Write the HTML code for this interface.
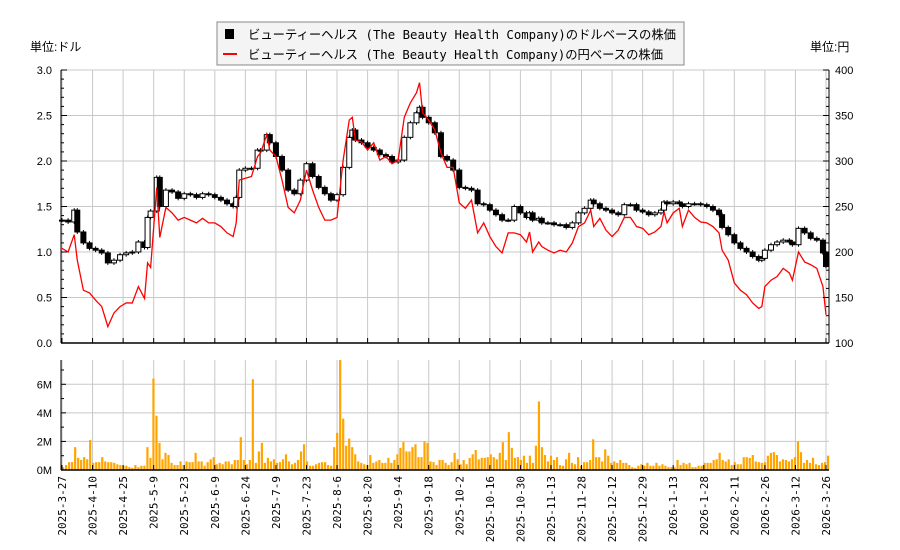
<!DOCTYPE html>
<html><head><meta charset="utf-8">
<style>
body{margin:0;background:#fff;}
svg{display:block;font-family:"Liberation Sans","Noto Sans CJK JP",sans-serif;}
</style></head>
<body>
<svg id="chart" width="900" height="550" viewBox="0 0 900 550">
<g id="grid"></g>
<g id="vol"></g>
<g id="candles"></g>
<polyline id="yenline" fill="none" stroke="#ff0000" stroke-width="1.3"/>
<g id="axes"></g>
<text x="30" y="51" font-size="12">単位:ドル</text>
<text x="810" y="51" font-size="12">単位:円</text>
<g>
<rect x="217" y="22" width="467" height="43" fill="#f4f4f4" stroke="#888"/>
<rect x="225" y="29" width="9" height="10" fill="#000"/>
<text x="248" y="39" font-size="12.5" textLength="428" lengthAdjust="spacingAndGlyphs" font-family="'DejaVu Sans Mono','Noto Sans CJK JP',monospace">ビューティーヘルス (The Beauty Health Company)のドルベースの株価</text>
<line x1="223" y1="54" x2="237" y2="54" stroke="#ff0000" stroke-width="2"/>
<text x="248" y="59" font-size="12.5" textLength="415" lengthAdjust="spacingAndGlyphs" font-family="'DejaVu Sans Mono','Noto Sans CJK JP',monospace">ビューティーヘルス (The Beauty Health Company)の円ベースの株価</text>
</g>
</svg>
<script>
const days=[0,2,4,5,7,9,11,13,15,17,19,21,23,25,27,28,29,31,32,34,36,38,40,42,44,46,48,50,52,54,56,57,58,60,62,64,65,67,68,70,72,74,76,78,80,82,84,86,88,90,92,94,95,96,98,100,102,104,106,108,110,112,114,116,117,118,120,122,124,126,128,130,132,134,136,138,140,142,144,146,148,150,152,153,154,156,157,159,161,163,165,167,169,171,173,174,176,178,180,182,184,186,188,190,192,194,196,197,198,200,202,203,205,207,209,211,213,215,216,218,220,222,224,226,228,229,230,232,234,236,238,239,241,243,245,247,249,250];
const usd=[1.35,1.33,1.46,1.22,1.10,1.04,1.02,0.99,0.88,0.91,0.97,0.99,1.00,1.11,1.05,1.38,1.45,1.82,1.50,1.68,1.66,1.59,1.64,1.63,1.60,1.64,1.63,1.60,1.57,1.53,1.50,1.60,1.90,1.92,1.92,2.12,2.12,2.29,2.20,2.05,1.90,1.68,1.64,1.79,1.97,1.83,1.71,1.64,1.57,1.63,1.93,2.26,2.34,2.23,2.20,2.15,2.12,2.07,2.05,1.99,2.01,2.26,2.42,2.53,2.59,2.48,2.42,2.31,2.05,2.01,1.90,1.71,1.70,1.68,1.53,1.52,1.46,1.41,1.35,1.35,1.50,1.43,1.38,1.43,1.35,1.37,1.32,1.32,1.30,1.30,1.27,1.32,1.43,1.48,1.57,1.53,1.48,1.46,1.43,1.41,1.52,1.52,1.46,1.44,1.41,1.43,1.46,1.55,1.53,1.55,1.53,1.50,1.53,1.53,1.52,1.50,1.46,1.41,1.27,1.19,1.10,1.04,1.00,0.95,0.91,0.93,1.02,1.08,1.11,1.13,1.11,1.08,1.26,1.21,1.15,1.13,0.99,0.84];
const yen=[204,200,219,191,158,155,147,140,118,133,140,144,144,162,149,188,183,271,216,249,243,235,238,235,232,237,232,232,228,221,217,232,279,281,283,305,309,329,312,305,279,249,243,257,290,268,249,235,235,238,301,345,348,323,321,312,320,301,305,297,301,348,364,375,386,353,345,334,309,293,293,254,248,257,221,232,217,206,199,221,221,219,211,222,200,211,206,202,199,202,200,210,228,232,246,228,237,224,217,224,238,238,228,226,219,222,228,244,232,243,248,228,246,238,233,232,228,221,202,191,166,158,153,144,138,140,162,169,173,182,177,169,200,189,186,182,162,131];
const vols=[0.2,0.35,0.55,0.55,1.6,0.85,0.7,0.9,0.75,2.1,0.5,0.55,0.55,0.9,0.6,0.55,0.55,0.5,0.4,0.35,0.3,0.3,0.2,0.15,0.35,0.2,0.3,0.3,1.6,0.85,6.4,3.8,1.9,0.75,1.2,1.05,0.5,0.35,0.35,0.6,0.35,0.6,0.55,0.55,1.2,0.6,0.6,0.3,0.55,0.75,0.9,0.4,0.5,0.4,0.6,0.6,0.4,0.7,0.7,2.3,0.7,0.4,0.7,6.35,0.5,1.3,1.9,0.5,0.85,0.6,0.75,0.5,0.55,0.75,1.1,0.6,0.4,0.5,0.7,1.3,1.8,0.6,0.3,0.3,0.4,0.5,0.55,0.55,0.35,0.3,1.6,2.6,7.7,3.6,1.7,2.2,1.6,1.1,0.6,0.5,0.4,0.35,1.05,0.5,0.6,0.7,0.5,0.5,0.85,0.5,0.7,1.1,1.55,1.95,1.3,1.3,1.6,1.8,0.9,0.9,2.0,1.9,0.6,0.55,0.35,0.7,
0.7,0.5,0.35,0.55,1.2,0.75,0.4,0.7,0.4,0.85,1.1,1.4,0.75,0.85,0.85,0.9,1.1,0.9,0.75,1.2,1.95,0.7,2.65,1.55,0.85,0.9,0.7,1.0,0.5,1.0,0.5,1.7,4.8,1.6,1.05,0.6,1.0,0.7,0.9,0.35,0.3,0.75,1.2,0.5,0.4,0.9,0.3,0.55,0.55,0.7,2.15,0.9,0.9,0.6,1.45,1.0,0.5,0.6,0.5,0.7,0.5,0.5,0.35,0.2,0.15,0.3,0.4,0.3,0.5,0.3,0.3,0.5,0.3,0.4,0.3,0.2,0.2,0.2,0.7,0.35,0.5,0.4,0.5,0.2,0.2,0.3,0.3,0.5,0.5,0.5,0.7,0.75,1.2,0.7,0.6,0.75,0.35,0.55,0.4,0.4,0.9,0.9,0.85,1.05,0.6,0.55,0.5,0.55,1.0,1.2,1.25,1.05,0.6,0.75,0.7,0.6,0.75,0.9,2.0,1.25,0.5,0.7,0.5,0.85,0.4,0.35,0.5,0.55,1.0];
const xLabels=["2025-3-27","2025-4-10","2025-4-25","2025-5-9","2025-5-23","2025-6-9","2025-6-24","2025-7-9","2025-7-23","2025-8-6","2025-8-20","2025-9-4","2025-9-18","2025-10-2","2025-10-16","2025-10-30","2025-11-13","2025-11-28","2025-12-12","2025-12-29","2026-1-13","2026-1-28","2026-2-11","2026-2-26","2026-3-12","2026-3-26"];
const usdTicks=[0,0.5,1.0,1.5,2.0,2.5,3.0];
const yenTicks=[100,150,200,250,300,350,400];
const volTicks=[0,2,4,6];

const NS="http://www.w3.org/2000/svg";
const L=61,R=829,T=70,B=343,VT=360,VB=470;
const X0=62,DX=30.56/10;
const xDay=d=>X0+d*DX;
const yUsd=v=>B-(v/3)*(B-T);
const yYen=v=>B-((v-100)/300)*(B-T);
const yVol=v=>VB-(v/7.7)*(VB-VT);
function mk(tag,attrs,parent){const e=document.createElementNS(NS,tag);for(const k in attrs)e.setAttribute(k,attrs[k]);parent.appendChild(e);return e;}
const grid=document.getElementById('grid'),axes=document.getElementById('axes');
xLabels.forEach((lab,k)=>{
  const x=xDay(k*10);
  const g1=mk('line',{x1:x,x2:x,y1:T,y2:B,stroke:'#c8c8c8'},grid);
  
  
  const g2=mk('line',{x1:x,x2:x,y1:VT,y2:VB,stroke:'#c8c8c8'},grid);
  
  
  mk('line',{x1:x,x2:x,y1:B-5,y2:B,stroke:'#000'},axes);
  mk('line',{x1:x,x2:x,y1:VB-5,y2:VB,stroke:'#000'},axes);
  const t=mk('text',{x:0,y:0,'font-size':11,'text-anchor':'end',transform:`translate(${x+4},476) rotate(-90)`,'font-family':"'DejaVu Sans Mono',monospace"},axes);
  t.textContent=lab;
  
  
});
usdTicks.forEach(v=>{
  const y=yUsd(v);
  const g=mk('line',{x1:L,x2:R,y1:y,y2:y,stroke:'#c8c8c8'},grid);
  
  
  const t=mk('text',{x:52,y:y+4,'font-size':11,'text-anchor':'end'},axes);
  t.textContent=v.toFixed(1);
  
  
  mk('line',{x1:L,x2:L+6,y1:y,y2:y,stroke:'#000'},axes);
});
for(let i=0;i<=30;i++){const y=yUsd(i/10);mk('line',{x1:L,x2:L+3,y1:y,y2:y,stroke:'#000'},axes);mk('line',{x1:R,x2:R-3,y1:y,y2:y,stroke:'#000'},axes);}
yenTicks.forEach(v=>{
  const y=yYen(v);
  const t=mk('text',{x:835,y:y+4,'font-size':11},axes);
  t.textContent=v;
  
  
  mk('line',{x1:R,x2:R-6,y1:y,y2:y,stroke:'#000'},axes);
});
volTicks.forEach(v=>{
  const y=yVol(v*1);
  if(v>0){const g=mk('line',{x1:L,x2:R,y1:y,y2:y,stroke:'#c8c8c8'},grid);
  
  }
  const t=mk('text',{x:52,y:y+4,'font-size':11,'text-anchor':'end'},axes);
  t.textContent=v+'M';
  
  
  mk('line',{x1:L,x2:L+5,y1:y,y2:y,stroke:'#000'},axes);
});
for(let i=1;i<8;i+=2){const y=yVol(i);mk('line',{x1:L,x2:L+3,y1:y,y2:y,stroke:'#000'},axes);}
mk('line',{x1:L,x2:L,y1:T,y2:B,stroke:'#000'},axes);
mk('line',{x1:R,x2:R,y1:T,y2:B,stroke:'#000'},axes);
mk('line',{x1:L,x2:R,y1:B,y2:B,stroke:'#000','stroke-width':1.5},axes);
mk('line',{x1:L,x2:L,y1:VT,y2:VB,stroke:'#000'},axes);
mk('line',{x1:L,x2:R,y1:VB,y2:VB,stroke:'#000','stroke-width':1.5},axes);
const vg=document.getElementById('vol');
const vstep=(R-L)/vols.length;
vols.forEach((v,i)=>{
  const x=L+1+i*vstep, y=yVol(v);
  const r=mk('rect',{x:x,y:y,width:2.2,height:VB-y,fill:'#ffa500'},vg);
  
  
});
const cg=document.getElementById('candles');
days.forEach((d,i)=>{
  const c=usd[i],o=i>0?usd[i-1]:usd[i];
  const x=xDay(d);
  const y1=yUsd(Math.max(o,c)),y2=yUsd(Math.min(o,c));
  const w=mk('line',{x1:x,x2:x,y1:y1-2,y2:y2+2,stroke:'#000'},cg);
  
  
  const r=mk('rect',{x:x-2.5,y:y1,width:5,height:Math.max(1,y2-y1),fill:c<o?'#000':'#fff',stroke:'#000','stroke-width':1},cg);
  
  
});
document.getElementById('yenline').setAttribute('points',days.map((d,i)=>xDay(d)+','+yYen(yen[i])).join(' '));
</script>
</body></html>
